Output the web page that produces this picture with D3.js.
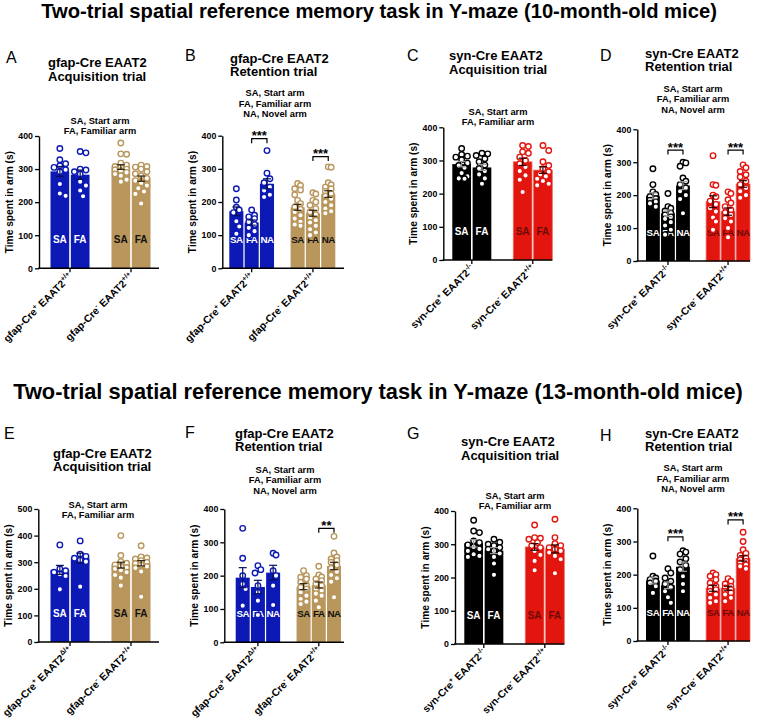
<!DOCTYPE html>
<html><head><meta charset="utf-8">
<script src="https://cdn.jsdelivr.net/npm/d3@7"></script>
<style>body{margin:0;background:#fff} svg{display:block}</style>
</head><body>
<svg id="c" width="757" height="724"></svg>
<script>
// ---------------- DATA ----------------
const mainTitles = [
  "Two-trial spatial reference memory task in Y-maze (10-month-old mice)",
  "Two-trial spatial reference memory task in Y-maze (13-month-old mice)"
];
const panelIds = ["A","B","C","D","E","F","G","H"];
const panelTitles = {
  A:["gfap-Cre EAAT2","Acquisition trial"], B:["gfap-Cre EAAT2","Retention trial"],
  C:["syn-Cre EAAT2","Acquisition trial"],  D:["syn-Cre EAAT2","Retention trial"],
  E:["gfap-Cre EAAT2","Acquisition trial"], F:["gfap-Cre EAAT2","Retention trial"],
  G:["syn-Cre EAAT2","Acquisition trial"],  H:["syn-Cre EAAT2","Retention trial"]
};
const legend2 = ["SA, Start arm","FA, Familiar arm"];
const legend3 = ["SA, Start arm","FA, Familiar arm","NA, Novel arm"];
const arms2 = ["SA","FA"];
const arms3 = ["SA","FA","NA"];
const yLabel = "Time spent in arm (s)";
const gfapGroups10 = [["gfap-Cre","+"," EAAT2","+/+"],["gfap-Cre","-"," EAAT2","+/+"]];
const gfapGroups13 = [["gfap-Cre","+"," EAAT2","Δ/+"],["gfap-Cre","-"," EAAT2","+/+"]];
const synGroups    = [["syn-Cre","+"," EAAT2","-/-"],["syn-Cre","-"," EAAT2","+/+"]];
const yTicks400 = [0,100,200,300,400];
const yTicks500 = [0,100,200,300,400,500];

// Panel A
const A_means = [293, 283, 306, 271];
const A_sems  = [15, 14, 7, 8];
const A_dots = [
  [362,328,316,310,305,298,292,255,226,219],
  [353,349,300,297,292,285,262,250,235,218],
  [379,346,345,318,312,308,305,300,298,295,290,285,280,268,262],
  [312,308,306,300,292,286,280,272,265,258,250,242,232,225,196]
];
// Panel B
const B_means = [172, 138, 255, 184, 166, 224];
const B_sems  = [13, 8, 15, 9, 9, 10];
const B_dots = [
  [240,206,184,176,168,142,126,104],
  [176,160,155,150,140,132,122,112,100],
  [355,287,270,258,245,235,222,215],
  [256,250,240,236,222,205,195,185,178,170,160,150,140,132,128],
  [228,224,205,200,190,180,170,162,152,145,138,128,118,108,100],
  [306,305,258,252,245,240,232,225,218,210,200,190,180,172,166]
];
const B_sig = [[0,1,2,391,"***"],[1,1,2,337,"***"]];
// Panel C
const C_means = [289, 279, 296, 271];
const C_sems  = [8, 9, 11, 10];
const C_dots = [
  [336,318,313,310,302,292,285,278,262,252,246,245],
  [322,320,315,305,296,286,276,268,258,246,230],
  [345,342,326,322,310,300,290,280,268,255,242,205],
  [345,330,296,285,275,266,258,252,245,238,230,225]
];
// Panel D
const D_means = [198, 145, 229, 180, 150, 234];
const D_sems  = [9, 10, 12, 18, 11, 10];
const D_dots = [
  [280,232,210,202,196,190,185,180,175,165],
  [205,165,160,152,146,140,134,128,118,108,95,80],
  [300,298,288,252,242,232,222,212,200,188,145],
  [320,232,230,200,195,182,172,160,150,132,120,95],
  [210,205,186,176,165,155,147,140,130,120,100,72],
  [292,283,272,262,255,242,232,222,212,200,192]
];
const D_sig = [[0,1,2,337,"***"],[1,1,2,337,"***"]];
// Panel E
const E_means = [271, 315, 289, 296];
const E_sems  = [17, 19, 11, 10];
const E_dots = [
  [365,275,268,262,255,248,198],
  [380,330,322,315,308,302,208],
  [400,325,302,296,290,285,280,275,270,262,252,242,212],
  [362,320,316,312,306,300,295,290,284,278,265,170]
];
// Panel F
const F_means = [194, 166, 209, 167, 172, 229];
const F_sems  = [30, 20, 22, 9, 9, 11];
const F_dots = [
  [342,252,200,175,160,110],
  [230,218,208,170,150,125,82],
  [267,262,215,200,170,112],
  [215,200,195,190,180,172,165,160,150,140,130,122,115],
  [228,202,196,190,185,176,170,160,155,146,140,125,105],
  [318,268,256,250,245,240,232,222,212,202,192,182,135]
];
const F_sig = [[1,1,2,342,"**"]];
// Panel G
const G_means = [303, 281, 292, 286];
const G_sems  = [11, 9, 10, 12];
const G_dots = [
  [372,340,335,310,305,298,292,286,280,270,265,262],
  [315,306,300,296,290,285,280,272,262,242,208],
  [358,320,318,315,305,296,290,280,268,250,222],
  [375,320,302,296,290,285,280,275,265,255,213]
];
// Panel H
const H_means = [182, 168, 224, 159, 159, 249];
const H_sems  = [10, 10, 14, 9, 6, 8];
const H_dots = [
  [256,195,190,185,180,175,165,145],
  [218,205,190,180,172,162,150,132,115],
  [272,268,262,248,238,228,215,195,172,150],
  [205,200,195,185,175,165,160,155,150,140,130,120,115],
  [188,180,172,165,160,155,150,145,140,130,120],
  [328,300,275,264,258,250,245,240,235,230,225,218]
];
const H_sig = [[0,1,2,314,"***"],[1,1,2,365,"***"]];

// ---------------- STYLE / LAYOUT ----------------
const FONT = "'Liberation Sans', Arial, Helvetica, sans-serif";
const gfapColors = ["#0c19b4","#b8965c"];
const synColors  = ["#000000","#e2150f"];
const gfapErr = ["#08105a","#2e2410"];
const synErr  = ["#9a9a9a","#2a0000"];
const gfapLbl = ["#ffffff","#111111"];
const synLbl  = ["#ffffff","#6e0a06"];

const layout = {
  A:{ax:39,   axEnd:159, yTop:136,   y0:268.3, bars:[50.5,150.5],  tx:48,  ty:62.7,  lx:6,   ly:57,  gx:100, gy:121},
  B:{ax:222.3,axEnd:344, yTop:135.7, y0:268.3, bars:[229.3,335.3], tx:230, ty:58,    lx:185, ly:55,  gx:275, gy:93.3},
  C:{ax:443.3,axEnd:552.3,yTop:127.3,y0:260,   bars:[452.3,552.3], tx:449, ty:55.7,  lx:407, ly:55,  gx:498, gy:111.7},
  D:{ax:637.3,axEnd:750, yTop:129.3, y0:261,   bars:[646,750],     tx:645, ty:53.3,  lx:600, ly:55,  gx:693, gy:89},
  E:{ax:38.3, axEnd:159, yTop:509,   y0:642,   bars:[50.5,150.5],  tx:53,  ty:453,   lx:4,   ly:433, gx:98,  gy:505},
  F:{ax:224.3,axEnd:344, yTop:509,   y0:642.3, bars:[235.7,341],   tx:235, ty:433.3, lx:185, ly:432, gx:285, gy:470},
  G:{ax:455,  axEnd:564.3,yTop:511,  y0:644,   bars:[464.3,564.3], tx:461, ty:441.7, lx:407, ly:433, gx:515, gy:495.7},
  H:{ax:637.3,axEnd:750, yTop:508.3, y0:641,   bars:[646,750],     tx:645, ty:433.3, lx:600, ly:435, gx:693, gy:468.3}
};

const panels = {
  A:{groups:gfapGroups10, arms:arms2, means:A_means, sems:A_sems, dots:A_dots, sig:[], ticks:yTicks400, leg:legend2, syn:false},
  B:{groups:gfapGroups10, arms:arms3, means:B_means, sems:B_sems, dots:B_dots, sig:B_sig, ticks:yTicks400, leg:legend3, syn:false},
  C:{groups:synGroups, arms:arms2, means:C_means, sems:C_sems, dots:C_dots, sig:[], ticks:yTicks400, leg:legend2, syn:true},
  D:{groups:synGroups, arms:arms3, means:D_means, sems:D_sems, dots:D_dots, sig:D_sig, ticks:yTicks400, leg:legend3, syn:true},
  E:{groups:gfapGroups13, arms:arms2, means:E_means, sems:E_sems, dots:E_dots, sig:[], ticks:yTicks500, leg:legend2, syn:false},
  F:{groups:gfapGroups13, arms:arms3, means:F_means, sems:F_sems, dots:F_dots, sig:F_sig, ticks:yTicks400, leg:legend3, syn:false},
  G:{groups:synGroups, arms:arms2, means:G_means, sems:G_sems, dots:G_dots, sig:[], ticks:yTicks400, leg:legend2, syn:true},
  H:{groups:synGroups, arms:arms3, means:H_means, sems:H_sems, dots:H_dots, sig:H_sig, ticks:yTicks400, leg:legend3, syn:true}
};

const svg = d3.select("#c").style("font-family", FONT);

// main titles
svg.append("text").attr("x",379).attr("y",17.5).attr("text-anchor","middle")
  .attr("font-weight","bold").attr("font-size",20.2).text(mainTitles[0]);
svg.append("text").attr("x",378).attr("y",399).attr("text-anchor","middle")
  .attr("font-weight","bold").attr("font-size",21.8).text(mainTitles[1]);

function swarm(values, cx, y, maxOff, r) {
  const pts = values.map(v => ({v, y: y(v)})).sort((a,b) => a.y - b.y);
  const step = r * 1.05;
  const cands = [0];
  for (let k = 1; k * step <= maxOff + 0.01; k++) cands.push(k*step, -k*step);
  const placed = [];
  for (const p of pts) {
    let best = 0, bestOv = Infinity;
    for (const c of cands) {
      let ov = 0;
      for (const q of placed) {
        const d = Math.hypot(c - q.off, p.y - q.y);
        if (d < 2*r + 0.4) ov += (2*r + 0.4 - d);
      }
      if (ov === 0) { best = c; bestOv = 0; break; }
      if (ov < bestOv) { bestOv = ov; best = c; }
    }
    p.off = best; p.x = cx + best;
    placed.push(p);
  }
  return pts;
}

for (const id of panelIds) {
  const P = panels[id], L = layout[id];
  const g = svg.append("g");
  const ymax = d3.max(P.ticks);
  const y = d3.scaleLinear().domain([0, ymax]).range([L.y0, L.yTop]);
  const nA = P.arms.length, nSlots = 2*nA + 1;
  const x = d3.scaleBand().domain(d3.range(nSlots)).range(L.bars).paddingInner(0.08).paddingOuter(0);
  const bw = x.bandwidth();
  const colors = P.syn ? synColors : gfapColors;
  const errC = P.syn ? synErr : gfapErr;
  const lblC = P.syn ? synLbl : gfapLbl;
  const slot = (gi, ai) => gi*(nA+1) + ai;
  const groupCenter = gi => (x(slot(gi,0)) + x(slot(gi,nA-1)) + bw) / 2;

  // letter
  g.append("text").attr("x",L.lx).attr("y",L.ly).attr("dominant-baseline","central")
    .attr("font-size",16).text(id);
  // title
  panelTitles[id].forEach((t,i) => g.append("text").attr("x",L.tx).attr("y",L.ty + i*13.6)
    .attr("dominant-baseline","central").attr("font-weight","bold").attr("font-size",13).text(t));
  // legend
  P.leg.forEach((t,i) => g.append("text").attr("x",L.gx).attr("y",L.gy + i*10.4)
    .attr("text-anchor","middle").attr("dominant-baseline","central")
    .attr("font-weight","bold").attr("font-size",9.3).text(t));

  // bars
  const barData = [];
  P.groups.forEach((grp, gi) => P.arms.forEach((arm, ai) => {
    const k = gi*nA + ai;
    barData.push({gi, ai, arm, mean:P.means[k], sem:P.sems[k], dots:P.dots[k], x:x(slot(gi,ai))});
  }));
  g.selectAll("rect.bar").data(barData).enter().append("rect")
    .attr("x", d => d.x).attr("width", bw)
    .attr("y", d => y(d.mean)).attr("height", d => y(0) - y(d.mean))
    .attr("fill", d => colors[d.gi])
    .attr("stroke", d => (P.syn && d.gi === 1) ? "#ee6a60" : "none").attr("stroke-width", 0.8);

  // arm labels inside bars
  g.selectAll("text.arm").data(barData).enter().append("text")
    .attr("x", d => d.x + bw/2).attr("y", L.y0 - 29).attr("text-anchor","middle")
    .attr("dominant-baseline","central").attr("font-weight","bold")
    .attr("font-size", nA === 3 ? 9.8 : 10).attr("letter-spacing", nA === 3 ? -0.5 : 0)
    .attr("fill", d => lblC[d.gi]).text(d => d.arm);

  // dots
  const r = 2.75;
  barData.forEach(d => {
    const pts = swarm(d.dots, d.x + bw/2, y, bw/2 - r - 0.3, r);
    g.selectAll(null).data(pts).enter().append("circle")
      .attr("cx", p => p.x).attr("cy", p => p.y).attr("r", r)
      .attr("fill","#fff").attr("stroke", colors[d.gi]).attr("stroke-width",1.4);
  });

  // error bars
  barData.forEach(d => {
    const cx = d.x + bw/2, c = errC[d.gi];
    const eg = g.append("g").attr("stroke", c).attr("stroke-width", 1.2);
    eg.append("line").attr("x1",cx).attr("x2",cx).attr("y1",y(d.mean - d.sem)).attr("y2",y(d.mean + d.sem));
    [d.mean - d.sem, d.mean + d.sem].forEach(v =>
      eg.append("line").attr("x1",cx-4).attr("x2",cx+4).attr("y1",y(v)).attr("y2",y(v)));
  });

  // significance brackets
  P.sig.forEach(([gi, a1, a2, v, lab]) => {
    const x1 = x(slot(gi,a1)) + bw/2, x2 = x(slot(gi,a2)) + bw/2, yy = y(v);
    g.append("path").attr("d", `M${x1},${yy+4.5}V${yy}H${x2}V${yy+4.5}`)
      .attr("fill","none").attr("stroke","#000").attr("stroke-width",1.2);
    g.append("text").attr("x",(x1+x2)/2).attr("y",yy+1.5).attr("text-anchor","middle")
      .attr("font-weight","bold").attr("font-size",13).text(lab);
  });

  // y axis
  const ya = g.append("g").attr("transform",`translate(${L.ax},0)`)
    .call(d3.axisLeft(y).tickValues(P.ticks).tickSize(4).tickSizeOuter(0).tickPadding(2));
  ya.select(".domain").attr("stroke","#000").attr("stroke-width",1.4);
  ya.selectAll(".tick line").attr("stroke","#000").attr("stroke-width",1.3);
  ya.selectAll(".tick text").attr("font-family",FONT).attr("font-weight","bold").attr("font-size",8.8).attr("fill","#000");

  // x axis line + ticks
  g.append("line").attr("x1",L.ax - 0.7).attr("x2",L.axEnd).attr("y1",L.y0).attr("y2",L.y0)
    .attr("stroke","#000").attr("stroke-width",1.4);
  P.groups.forEach((grp, gi) => {
    const cx = groupCenter(gi);
    g.append("line").attr("x1",cx).attr("x2",cx).attr("y1",L.y0).attr("y2",L.y0+4)
      .attr("stroke","#000").attr("stroke-width",1.3);
    const t = g.append("text").attr("transform",`translate(${cx+3},${L.y0+9}) rotate(-45)`)
      .attr("text-anchor","end").attr("font-weight","bold").attr("font-size",10.3);
    t.append("tspan").text(grp[0]);
    t.append("tspan").attr("dy",-4.2).attr("font-size",7).text(grp[1]);
    t.append("tspan").attr("dy",4.2).text(grp[2]);
    t.append("tspan").attr("dy",-4.2).attr("font-size",7).text(grp[3]);
  });

  // y label
  g.append("text").attr("transform",`translate(${L.ax-30},${(L.y0+L.yTop)/2}) rotate(-90)`)
    .attr("text-anchor","middle").attr("dominant-baseline","central")
    .attr("font-weight","bold").attr("font-size",10.2).text(yLabel);
}
</script>
</body></html>
